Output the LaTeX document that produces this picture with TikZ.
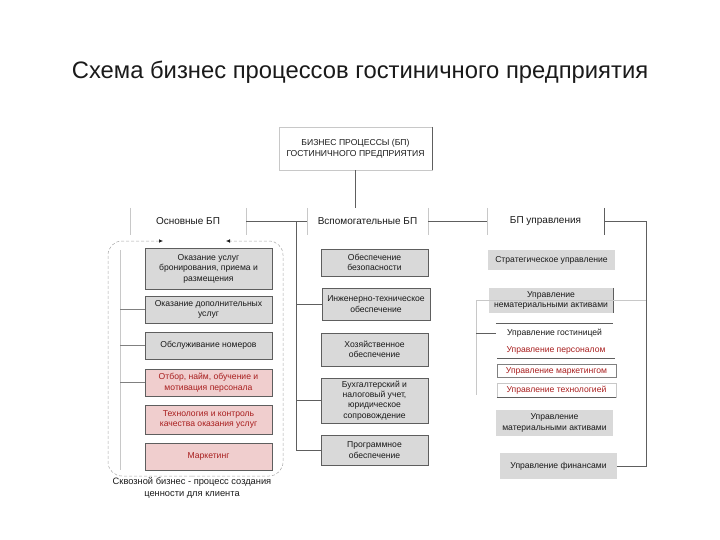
\documentclass[tikz,border=0pt]{standalone}
\usepackage{fontspec}
\setmainfont{Liberation Sans}
\usepackage{xcolor}
\definecolor{ink}{HTML}{1A1A1A}
\definecolor{boxgray}{HTML}{D9D9D9}
\definecolor{rose}{HTML}{F0CECE}
\definecolor{wine}{HTML}{A81E1E}
\definecolor{edge}{HTML}{5E5E5E}
\definecolor{faint}{HTML}{C8C8C8}
\usepackage{tikz}
\usetikzlibrary{arrows.meta}

\tikzset{
  headbox/.style={fill=white, minimum width=117pt, minimum height=27pt, inner sep=1pt,
                  font=\fontsize{10}{11}\selectfont, text=ink},
  graybox/.style={draw=edge, line width=0.5pt, fill=boxgray, align=center, inner sep=0.5pt,
                  font=\fontsize{8.6}{10.6}\selectfont, text=ink},
  rosebox/.style={graybox, fill=rose, text=wine},
  rowbox/.style={align=center, inner sep=0.5pt, font=\fontsize{8.6}{10}\selectfont},
  wire/.style={edge, line width=0.6pt},
  loopline/.style={gray!70, line width=0.5pt, densely dashed, rounded corners=14pt},
}

\begin{document}
\begin{tikzpicture}[x=1pt,y=-1pt]
  \useasboundingbox (0,0) rectangle (720,540);
  % title
  \node[text=ink] (title) at (360,72) {\fontsize{23.8}{28}\selectfont Схема бизнес процессов гостиничного предприятия};
  % top box
  \node[draw=faint, fill=white, minimum width=153pt, minimum height=43pt, align=center,
        font=\fontsize{8.6}{11}\selectfont, text=ink] (top) at (355.5,148.5)
        {БИЗНЕС ПРОЦЕССЫ (БП)\\ГОСТИНИЧНОГО ПРЕДПРИЯТИЯ};
  \draw[wire] (top.north east) -- (top.south east);
  % three groups
  \node[headbox, minimum width=116pt] (osn) at (188,221.5) {Основные БП};
  \node[headbox, minimum width=121pt] (vsp) at (367.5,221.5) {Вспомогательные БП};
  \node[headbox] (upr) at (545.5,221.5) {БП управления};
  \foreach \h in {osn,vsp,upr}
    \draw[faint] (\h.north west) -- (\h.south west) (\h.north east) -- (\h.south east);
  \draw[wire] (upr.north east) -- (upr.south east);
  \draw[wire] (top.south) -- (top.south |- vsp.north);
  \draw[wire] (osn.east) -- (vsp.west);
  \draw[wire] (vsp.east) -- (upr.west);

  % main processes
  \node[graybox, minimum width=127pt, minimum height=41pt] (bron) at (208.5,268.5)
        {Оказание услуг\\бронирования, приема и\\размещения};
  \node[graybox, minimum width=127pt, minimum height=27pt] (dop) at (208.5,309.5)
        {Оказание дополнительных\\услуг};
  \node[graybox, minimum width=127pt, minimum height=27pt] (nom) at (208.5,345.5)
        {Обслуживание номеров};
  \node[rosebox, minimum width=127pt, minimum height=27pt] (otb) at (208.5,382.5)
        {Отбор, найм, обучение и\\мотивация персонала};
  \node[rosebox, minimum width=127pt, minimum height=29pt] (tech) at (208.5,419.5)
        {Технология и контроль\\качества оказания услуг};
  \node[rosebox, minimum width=127pt, minimum height=27pt] (mkt) at (208.5,456.5)
        {Маркетинг};
  % loop round them
  \draw[loopline, -{Latex[length=4pt,width=3.5pt,color=ink]}] (192,476) -| (108,241) -- (163,241);
  \draw[loopline, -{Latex[length=4pt,width=3.5pt,color=ink]}] (192,476) -| (283,241) -- (226,241);
  \coordinate (lbus) at (120,250);
  \coordinate (lbot) at (120,470);
  \draw[faint] (lbus) -- (lbot);
  \foreach \b in {dop,otb,nom}
    \draw[wire, gray] (\b.west -| lbus) -- (\b.west);
  \node[align=center, font=\fontsize{9.3}{12}\selectfont, text=ink] (skv) at (192,487.5)
        {Сквозной бизнес - процесс создания\\ценности для клиента};

  % support processes
  \node[graybox, minimum width=107pt, minimum height=27pt] (bez) at (374.5,262.5)
        {Обеспечение\\безопасности};
  \node[graybox, minimum width=108pt, minimum height=32pt] (ing) at (376,304)
        {Инженерно-техническое\\обеспечение};
  \node[graybox, minimum width=107pt, minimum height=33pt] (hoz) at (374.5,349.5)
        {Хозяйственное\\обеспечение};
  \node[graybox, minimum width=107pt, minimum height=45pt, font=\fontsize{8.6}{10.2}\selectfont] (buh) at (374.5,400.5)
        {Бухгалтерский и\\налоговый учет,\\юридическое\\сопровождение};
  \node[graybox, minimum width=107pt, minimum height=30pt] (prog) at (374.5,450)
        {Программное\\обеспечение};
  \coordinate (mbus) at (296,221.5);
  \draw[wire] (mbus) |- (prog.west);
  \draw[wire] (ing.west -| mbus) -- (ing.west);
  \draw[wire] (buh.west -| mbus) -- (buh.west);

  % management processes
  \node[graybox, draw=none, minimum width=127pt, minimum height=20pt] (strat) at (551.5,260)
        {Стратегическое управление};
  \node[graybox, draw=none, minimum width=124pt, minimum height=25pt] (nemat) at (551,300.5)
        {Управление\\нематериальными активами};
  \draw[wire] (nemat.north east) -- (nemat.south east);
  \draw[faint] (646,300) -- (476,300) -- (476,395);
  \node[rowbox, text=ink, minimum width=117pt, minimum height=20pt] (gost) at (554.5,333)
        {Управление гостиницей};
  \draw[wire] (gost.north west) -- (gost.north east);
  \coordinate (gbus) at (476,333);
  \draw[wire] (gbus) -- (gost.west);
  \node[rowbox, text=wine, minimum width=117pt, minimum height=15pt] (pers) at (556,350.5)
        {Управление персоналом};
  \draw[wire] (pers.south west) -- (pers.south east);
  \node[rowbox, draw=gray, text=wine, minimum width=119pt, minimum height=13pt] (umkt) at (556.5,371)
        {Управление маркетингом};
  \node[rowbox, draw=faint, text=wine, minimum width=119pt, minimum height=14pt] (utech) at (556.5,390)
        {Управление технологией};
  \draw[wire] (utech.south west) -- (utech.south east);
  \node[graybox, draw=none, minimum width=117pt, minimum height=26pt] (mat) at (554.5,423)
        {Управление\\материальными активами};
  \node[graybox, draw=none, minimum width=117pt, minimum height=26pt] (fin) at (558.5,466)
        {Управление финансами};
  \coordinate (rbus) at (646,466);
  \draw[wire] (upr.east) -| (rbus) -- (fin.east);
\end{tikzpicture}
\end{document}
